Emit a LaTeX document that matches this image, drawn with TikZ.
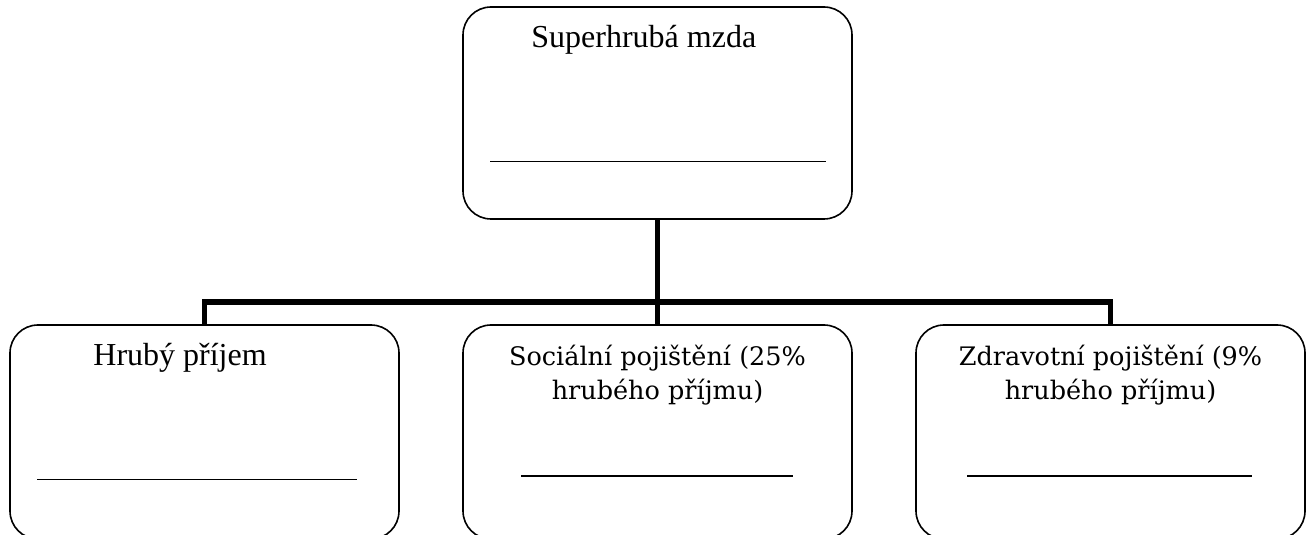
\documentclass[tikz,border=0pt]{standalone}
\usepackage{fontspec}
\setmainfont{Liberation Serif}
\newfontfamily\pismoB{DejaVu Serif}
\usetikzlibrary{positioning}
\tikzset{
  krabice/.style={draw, line width=1.6pt, rounded corners=28pt,
    minimum width=389pt, minimum height=212pt, inner sep=0pt},
  spoj/.style={line width=5.5pt},
  linka/.style={line width=1.3pt},
  popisA/.style={font=\fontsize{32}{38}\selectfont, inner sep=0pt, anchor=base west},
  popisB/.style={font=\pismoB\fontsize{25.5}{34}\selectfont, inner sep=0pt,
    align=center, anchor=base},
}
\begin{document}
\begin{tikzpicture}[x=1pt,y=1pt]
   \useasboundingbox (0,0) rectangle (1307,535);

   % Horni krabice
   \node[krabice] (superhruba) at (657.5,422) {};

   % Spodni krabice
   \node[krabice, minimum height=214pt] (hruby) at (204.5,103) {};
   \node[krabice, minimum height=214pt] (socialni) at (657.5,103) {};
   \node[krabice, minimum height=214pt] (zdravotni) at (1110.5,103) {};

   % Texty
   \node[popisA] (tsuper) at ([xshift=69pt,yshift=-41pt]superhruba.north west) {Superhrubá mzda};
   \node[popisA] (thruby) at ([xshift=84pt,yshift=-41pt]hruby.north west) {Hrubý příjem};
   \node[popisB] (tsocial) at ([yshift=-75pt]socialni.north) {Sociální pojištění (25\%\\hrubého příjmu)};
   \node[popisB] (tzdrav) at ([yshift=-75pt]zdravotni.north) {Zdravotní pojištění (9\%\\hrubého příjmu)};

   % Linky na doplneni
   \draw[linka] ([xshift=28pt,yshift=-155pt]superhruba.north west) -- ++(336,0);
   \draw[linka] ([xshift=28pt,yshift=-155pt]hruby.north west) -- ++(320,0);
   \draw[linka, line width=1.8pt] ([xshift=59pt,yshift=-152pt]socialni.north west) -- ++(272,0);
   \draw[linka, line width=1.8pt] ([xshift=52pt,yshift=-152pt]zdravotni.north west) -- ++(285,0);

   % Spojnice
   \draw[spoj] (superhruba.south) -- (socialni.north);
   \draw[spoj] (hruby.north) -- ++(0,22) -| (zdravotni.north);
\end{tikzpicture}
\end{document}
